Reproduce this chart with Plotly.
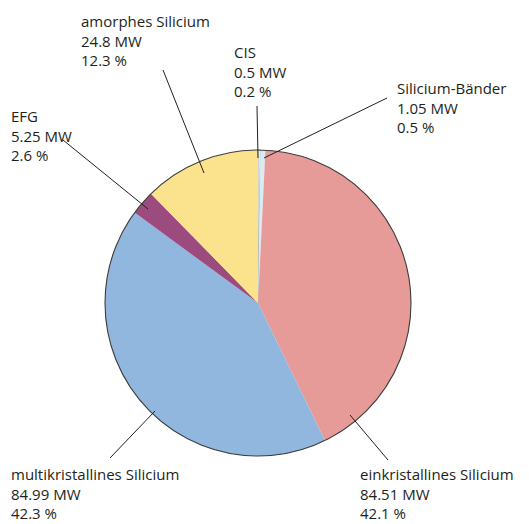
import plotly.graph_objects as go

# Photovoltaik-Produktion nach Zelltechnologie (MW), im Uhrzeigersinn ab 12 Uhr
labels = ["CIS", "Silicium-Bänder", "einkristallines Silicium",
          "multikristallines Silicium", "EFG", "amorphes Silicium"]
mw_values = [0.5, 1.05, 84.51, 84.99, 5.25, 24.8]
mw_text = ["0.5 MW", "1.05 MW", "84.51 MW", "84.99 MW", "5.25 MW", "24.8 MW"]
pct_text = ["0.2 %", "0.5 %", "42.1 %", "42.3 %", "2.6 %", "12.3 %"]
colors = ["#fbfcfc", "#d9ecf2", "#e79b99", "#91b7de", "#9c4b7e", "#fbe28c"]

W, H = 529, 524
CX, CY, R = 258, 303, 153          # pie centre / radius in pixels

# label block anchor (left x, centre y of the middle line) and leader line (label end -> slice end)
label_pos = {
    "CIS": (233, 71),
    "Silicium-Bänder": (396, 107),
    "einkristallines Silicium": (359, 493),
    "multikristallines Silicium": (10, 493),
    "EFG": (10, 135),
    "amorphes Silicium": (80, 40),
}
leaders = {
    "CIS": ((257, 106), (258, 158)),
    "Silicium-Bänder": ((387, 98), (264, 158)),
    "einkristallines Silicium": ((388, 460), (350, 415)),
    "multikristallines Silicium": ((110, 458), (155, 411)),
    "EFG": ((63, 140), (148, 209)),
    "amorphes Silicium": ((163, 70), (204, 173)),
}


def px(x):
    return x / W


def py(y):
    return 1 - y / H


domain = dict(x=[px(CX - R), px(CX + R)], y=[py(CY + R), py(CY - R)])

fig = go.Figure()
fig.add_trace(go.Pie(
    labels=labels, values=mw_values, sort=False, direction="clockwise",
    rotation=0, textinfo="none", hoverinfo="label+value",
    marker=dict(colors=colors,
                line=dict(color=["#9a9a9a", "#c8d6da", "#e79b99", "#91b7de", "#9c4b7e", "#fbe28c"],
                          width=[0.8, 0, 0, 0, 0, 0])),
    domain=domain, showlegend=False,
))
# dark outer rim of the pie
fig.add_trace(go.Pie(
    values=[1], sort=False, textinfo="none", hoverinfo="skip",
    marker=dict(colors=["rgba(0,0,0,0)"], line=dict(color="#3c3c3c", width=1.1)),
    domain=domain, showlegend=False,
))

font = dict(family="Open Sans, Noto Sans, sans-serif", size=15, color="#231f20")
for name, mw, pct in zip(labels, mw_text, pct_text):
    x0, y0 = label_pos[name]
    fig.add_annotation(x=px(x0), y=py(y0), xref="paper", yref="paper",
                       text="<br>".join([name, mw, pct]), showarrow=False,
                       xanchor="left", yanchor="middle", align="left",
                       font=font, borderpad=0)
    (ax, ay), (bx, by) = leaders[name]
    fig.add_shape(type="line", xref="paper", yref="paper",
                  x0=px(ax), y0=py(ay), x1=px(bx), y1=py(by),
                  line=dict(color="#231f20", width=1))

fig.update_layout(width=W, height=H, margin=dict(l=0, r=0, t=0, b=0),
                  paper_bgcolor="white", plot_bgcolor="white")
fig.write_html("out.html")
